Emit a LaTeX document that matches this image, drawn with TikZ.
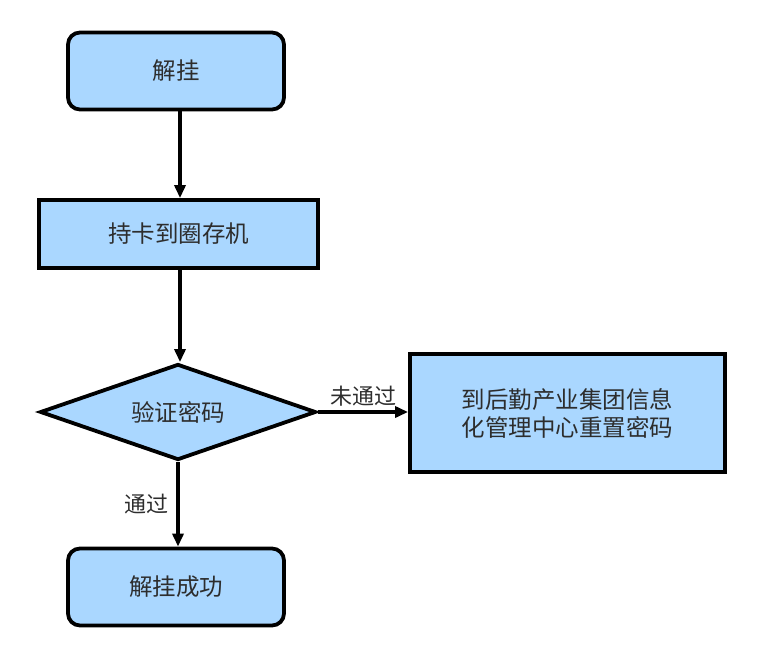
\documentclass[tikz,border=0pt]{standalone}
\usepackage{fontspec}
\newfontfamily\cjk{Noto Sans CJK SC}
\usetikzlibrary{shapes.geometric,arrows.meta}
\definecolor{boxfill}{RGB}{170,215,255}
\definecolor{txt}{RGB}{45,45,45}
\tikzset{
  base/.style={draw=black, line width=3.8pt, fill=boxfill, text=txt, font=\cjk\fontsize{23.5}{28}\selectfont, align=center, inner sep=0pt},
  term/.style={base, rounded corners=12pt, minimum width=216pt, minimum height=77pt},
  proc/.style={base, minimum width=279pt, minimum height=68pt},
  dec/.style={base, diamond, aspect=2.875, minimum width=276pt, minimum height=96pt, line join=miter},
  conn/.style={line width=3.8pt, -{Triangle[length=13pt,width=11pt]}},
  lbl/.style={text=txt, font=\cjk\fontsize{22}{24}\selectfont}
}
\begin{document}
\begin{tikzpicture}[x=1pt,y=-1pt]
\useasboundingbox (0,0) rectangle (760,668);
\node[term] (a) at (176,71) {解挂};
\node[proc] (b) at (178.5,234) {持卡到圈存机};
\node[dec] (c) at (178,412) {验证密码};
\node[proc, minimum width=315pt, minimum height=118pt] (d) at (567.5,413) {到后勤产业集团信息\\化管理中心重置密码};
\node[term] (e) at (176,587) {解挂成功};
\draw[conn] (a.south -| 180,0) -- (b.north -| 180,0);
\draw[conn] (b.south -| 180,0) -- (c.north -| 180,0);
\draw[conn] (c.east) -- (d.west |- c.east) node[lbl, midway, above=1pt] (l1) {未通过};
\draw[conn] (c.south) -- (e.north -| c.south) node[lbl, midway, left=4pt] (l2) {通过};
\end{tikzpicture}
\end{document}
